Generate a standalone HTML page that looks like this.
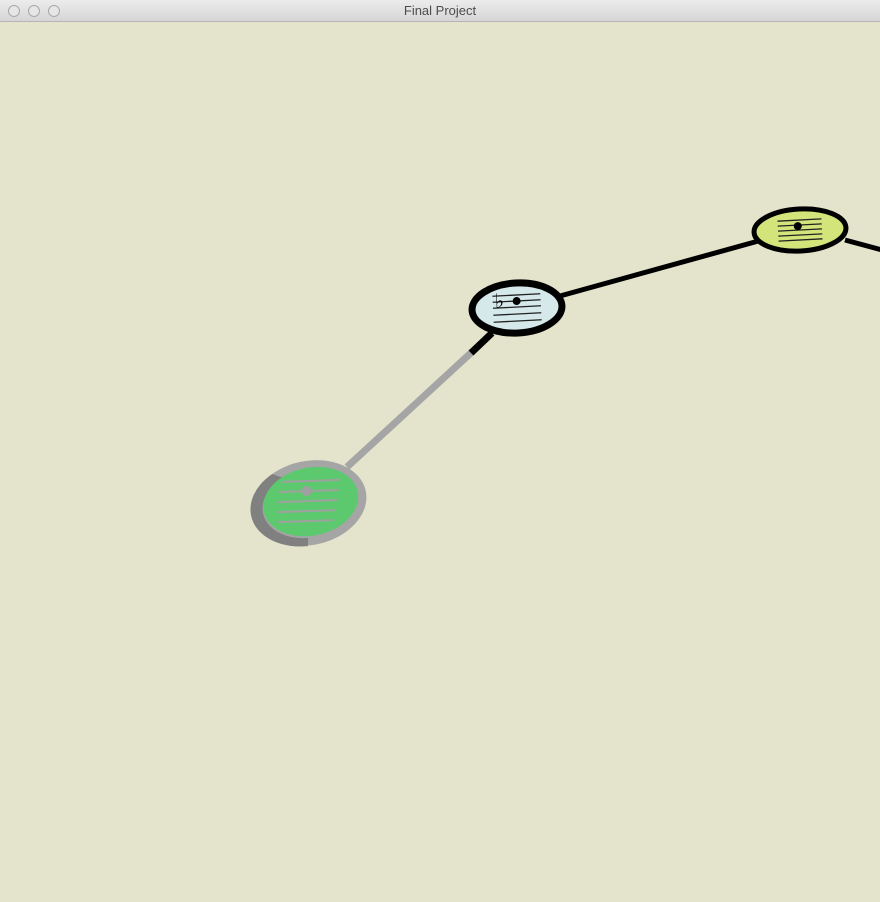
<!DOCTYPE html>
<html><head><meta charset="utf-8"><style>
body{margin:0;width:880px;height:902px;overflow:hidden;background:#e4e3cb;font-family:"Liberation Sans",sans-serif}
#bar{position:absolute;left:0;top:0;width:880px;height:21px;background:linear-gradient(#ececec,#d6d6d6);border-bottom:1px solid #b4b4b4;text-align:center;font-size:13px;line-height:22px;color:#4d4d4d}
.dot{position:absolute;top:5px;width:10px;height:10px;border-radius:50%;border:1px solid #a8a8a8;background:#e6e6e6}
svg{position:absolute;left:0;top:0}
</style></head><body>
<div id="bar">Final Project
<div class="dot" style="left:8px"></div>
<div class="dot" style="left:28px"></div>
<div class="dot" style="left:48px"></div>
</div>
<svg width="880" height="902">
<g>
<line x1="347" y1="467" x2="473" y2="351" stroke="#a5a5a5" stroke-width="7"/>
<line x1="471" y1="353" x2="492" y2="333" stroke="#000" stroke-width="7"/>
<line x1="560" y1="296" x2="762" y2="240" stroke="#000" stroke-width="5"/>
<line x1="845" y1="240" x2="882" y2="250" stroke="#000" stroke-width="5"/>
</g>
<g transform="translate(309,503) rotate(-12)">
<ellipse rx="58" ry="42" fill="#a5a5a5"/>
<path d="M -10 42 A 58 42 0 0 1 -30 -36 L -20 -30 A 48 34 0 0 0 -8 34 Z" fill="#808080"/>
<ellipse cx="2" cy="-1" rx="48" ry="34" fill="#5cc96e"/>
<g stroke="#a0a0a0" stroke-width="2" transform="rotate(10)">
<line x1="-26" y1="-22" x2="32" y2="-22"/><line x1="-30" y1="-12" x2="30" y2="-12"/>
<line x1="-32" y1="-2" x2="28" y2="-2"/><line x1="-32" y1="8" x2="26" y2="8"/><line x1="-32" y1="18" x2="24" y2="18"/>
<circle cx="-2" cy="-12" r="5" fill="#a0a0a0" stroke="none"/>
</g>
</g>
<g transform="translate(517,308) rotate(-3)">
<ellipse rx="45" ry="25" fill="#d5e8ea" stroke="#000" stroke-width="7"/>
<g stroke="#222" stroke-width="1.3">
<line x1="-24" y1="-13" x2="24" y2="-13"/><line x1="-24" y1="-7" x2="24" y2="-7"/>
<line x1="-24" y1="-1" x2="24" y2="-1"/><line x1="-24" y1="6" x2="24" y2="6"/><line x1="-24" y1="13" x2="24" y2="13"/>
</g>
<circle cx="0" cy="-7" r="4" fill="#000"/>
<text x="-22" y="-1" font-size="20" fill="#000" font-family="DejaVu Sans,sans-serif">♭</text>
</g>
<g transform="translate(800,230) rotate(-3)">
<ellipse rx="46" ry="21" fill="#d2e47a" stroke="#000" stroke-width="5"/>
<g stroke="#222" stroke-width="1.3">
<line x1="-22" y1="-10" x2="22" y2="-10"/><line x1="-22" y1="-5" x2="22" y2="-5"/>
<line x1="-22" y1="0" x2="22" y2="0"/><line x1="-22" y1="5" x2="22" y2="5"/><line x1="-22" y1="10" x2="22" y2="10"/>
</g>
<circle cx="-2" cy="-4" r="4" fill="#000"/>
</g>
</svg>
</body></html>
